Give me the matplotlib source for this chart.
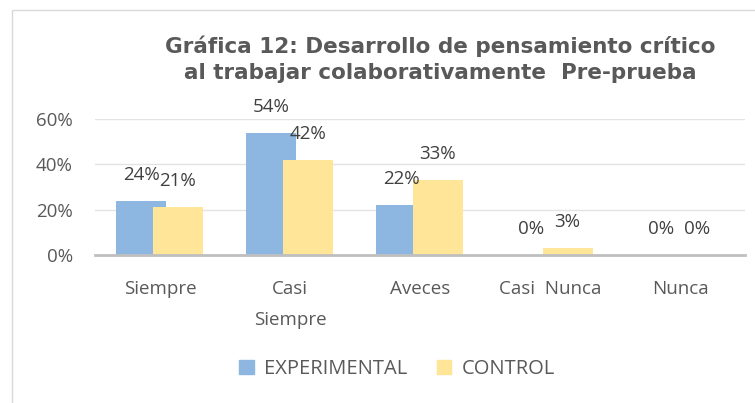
import matplotlib
matplotlib.use("Agg")
import matplotlib.pyplot as plt
from matplotlib.patches import Rectangle, Patch
import numpy as np

categories = ["Siempre", "Casi\nSiempre", "Aveces", "Casi  Nunca", "Nunca"]
experimental = [0.24, 0.54, 0.22, 0.00, 0.00]
control = [0.21, 0.42, 0.33, 0.03, 0.00]
exp_labels = ["24%", "54%", "22%", "0%", "0%"]
ctrl_labels = ["21%", "42%", "33%", "3%", "0%"]
yticks = [0, 0.2, 0.4, 0.6]
ytick_labels = ["0%", "20%", "40%", "60%"]
title = "Gráfica 12: Desarrollo de pensamiento crítico\nal trabajar colaborativamente  Pre-prueba"

BLUE = "#8DB6E1"
YELLOW = "#FFE597"
GRAY = "#595959"
FONT = ["Open Sans", "DejaVu Sans"]

fig = plt.figure(figsize=(7.55, 4.03), dpi=100)
fig.patches.append(Rectangle((12/755, -0.05), 1.0, 1 - 10/403 + 0.05, transform=fig.transFigure,
                             fill=False, edgecolor="#D9D9D9", linewidth=1))

ax = fig.add_axes([95/755, 1 - 255/403, 650/755, 136/403])
x = np.arange(len(categories))
w = 0.385
ax.bar(x - 0.145, experimental, width=w, color=BLUE, zorder=2)
ax.bar(x + 0.135, control, width=w, color=YELLOW, zorder=3)

for i in range(len(categories)):
    ax.text(x[i] - 0.145, experimental[i] + 0.115, exp_labels[i], ha="center", va="center",
            fontsize=13.5, color="#404040", family=FONT, zorder=4)
    ax.text(x[i] + 0.135, control[i] + 0.115, ctrl_labels[i], ha="center", va="center",
            fontsize=13.5, color="#404040", family=FONT, zorder=4)

ax.set_xlim(-0.5, len(categories) - 0.5)
ax.set_ylim(0, 0.6)
ax.set_yticks(yticks)
ax.set_yticklabels(ytick_labels, family=FONT, fontsize=13.5, color=GRAY)
ax.set_xticks(x)
ax.set_xticklabels(categories, family=FONT, fontsize=13.5, color=GRAY, linespacing=1.95)
ax.tick_params(axis="both", length=0)
ax.tick_params(axis="y", pad=16)
ax.tick_params(axis="x", pad=18)
ax.grid(axis="y", color="#E3E3E3", linewidth=1, zorder=0)
for s in ["top", "right", "left"]:
    ax.spines[s].set_visible(False)
ax.spines["bottom"].set_color("#BFBFBF")
ax.spines["bottom"].set_linewidth(2)
ax.spines["bottom"].set_zorder(5)

fig.text(440/755, 1 - 59/403, title, ha="center", va="center", fontsize=15.5, fontweight="bold",
         color=GRAY, family=["DejaVu Sans"], linespacing=1.4)

handles = [Patch(color=BLUE, label="EXPERIMENTAL"), Patch(color=YELLOW, label="CONTROL")]
fig.legend(handles=handles, loc="center", bbox_to_anchor=(397/755, 1 - 369/403), ncol=2,
           frameon=False, prop={"family": FONT, "size": 14.5}, labelcolor=GRAY,
           handlelength=0.7, handleheight=0.7, handletextpad=0.5, columnspacing=1.5)

fig.savefig("out.png", dpi=100)
